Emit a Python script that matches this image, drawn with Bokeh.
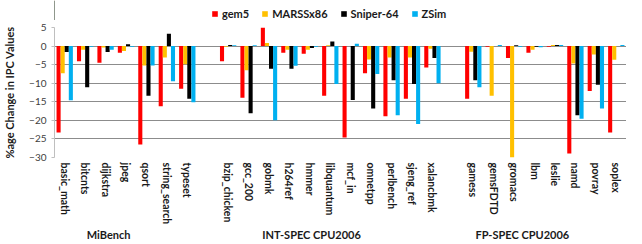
from bokeh.plotting import figure
from bokeh.layouts import column
from bokeh.models import FactorRange, Range1d, Legend, LegendItem, FixedTicker, ColumnDataSource
from bokeh.core.properties import value
from bokeh.transform import dodge
from bokeh.embed import file_html
from bokeh.resources import INLINE

# ---- data ----
mibench = ["basic_math", "bitcnts", "dijkstra", "jpeg", "qsort", "string_search", "typeset"]
intspec = ["bzip_chicken", "gcc_200", "gobmk", "h264ref", "hmmer", "libquantum", "mcf_in",
           "omnetpp", "perlbench", "sjeng_ref", "xalancbmk"]
fpspec = ["gamess", "gemsFDTD", "gromacs", "lbm", "leslie", "namd", "povray", "soplex"]
group_names = ["MiBench", "INT-SPEC  CPU2006", "FP-SPEC CPU2006"]

gem5 = [-23.3, -4.1, -4.5, -1.8, -26.5, -16.2, -11.5,
        -4.1, -13.9, 5.0, -1.8, -2.1, -13.4, -24.6, -7.3, -18.9, -14.2, -5.8,
        -14.2, -0.2, -3.2, -1.8, -0.2, -28.9, -12.1, -23.3]
marss = [-7.3, -1.0, -0.4, -1.3, -5.2, -3.1, -4.9,
         -0.2, -6.5, 0.8, -1.0, -1.0, 0.2, 0.0, -3.6, -3.1, -3.1, -0.7,
         -1.5, -13.4, -30.0, -1.0, 0.3, -4.7, -2.3, -3.7]
sniper = [-1.6, -11.1, -1.6, 0.5, -13.4, 3.3, -14.2,
          0.3, -18.1, -6.1, -6.1, -0.5, 1.2, -14.5, -16.8, -9.2, -10.2, -3.2,
          -9.2, 0.0, 0.2, -0.2, 0.3, -18.6, -10.4, 0.0]
zsim = [-14.6, -0.2, -1.0, -0.2, -5.2, -9.5, -15.1,
        0.2, 0.2, -20.0, -5.3, -0.2, -10.2, 0.6, -7.5, -18.6, -21.0, -10.0,
        -11.1, 0.3, -0.2, -0.3, 0.3, -19.6, -16.8, 0.3]
series_names = ["gem5", "MARSSx86", "Sniper-64", "ZSim"]
series_colors = ["#FF0000", "#FFC000", "#000000", "#00B0F0"]
y_ticks = [-30, -25, -20, -15, -10, -5, 0, 5]

# ---- build ----
groups = [mibench, intspec, fpspec]
factors = []
group_centers = []
for gi, g in enumerate(groups):
    start = len(factors)
    factors.extend(g)
    group_centers.append((start + len(factors) - 1) / 2 + 0.5)
    if gi < len(groups) - 1:
        factors.append(" " * (gi + 1))  # empty gap slot

cats = mibench + intspec + fpspec
src = ColumnDataSource(dict(cat=cats, gem5=gem5, marss=marss, sniper=sniper, zsim=zsim))
cols = ["gem5", "marss", "sniper", "zsim"]

FONT = "Lato"
W = 626
LEFT = 45

xr = FactorRange(factors=factors, range_padding=0, factor_padding=0)

# --- legend strip ---
top = figure(width=W, height=20, x_range=Range1d(0, 1), y_range=Range1d(0, 1),
             output_backend="svg", toolbar_location=None,
             min_border_left=LEFT, min_border_right=0, min_border_top=0, min_border_bottom=0)
top.axis.visible = False
top.grid.visible = False
top.outline_line_color = None
items = []
for name, color in zip(series_names, series_colors):
    r = top.vbar(x=[-10], top=[1], width=0.1, fill_color=color, line_color=None)
    items.append(LegendItem(label=name, renderers=[r]))
legend = Legend(items=items, orientation="horizontal", location=(157, 0),
                border_line_alpha=0, background_fill_alpha=0, padding=0, margin=0,
                spacing=12, glyph_width=7, glyph_height=7, label_standoff=4,
                label_height=12,
                label_text_font=FONT, label_text_font_size="11px",
                label_text_font_style="bold", label_text_color="#1a1a1a")
top.add_layout(legend, "center")

# --- main chart ---
p = figure(x_range=xr, y_range=Range1d(-30, 5), width=W, height=207,
           output_backend="svg", toolbar_location=None,
           min_border_left=LEFT, min_border_right=0, min_border_top=7, min_border_bottom=40)

offsets = [-0.3, -0.1, 0.1, 0.3]
for col, color, off in zip(cols, series_colors, offsets):
    p.vbar(x=dodge("cat", off, range=p.x_range), top=col, bottom=0, width=0.2,
           source=src, fill_color=color, line_color=None)

p.outline_line_color = None
p.xgrid.grid_line_color = None
p.ygrid.grid_line_color = "#8C8C8C"
p.ygrid.grid_line_width = 1

p.yaxis.ticker = FixedTicker(ticks=y_ticks)
p.yaxis.axis_label = "%age Change in IPC Values"
p.yaxis.axis_label_text_font = FONT
p.yaxis.axis_label_text_font_size = "11px"
p.yaxis.axis_label_text_font_style = "bold"
p.yaxis.axis_label_text_color = "#1a1a1a"
p.yaxis.axis_label_standoff = 10
p.yaxis.major_label_text_font = FONT
p.yaxis.major_label_text_font_size = "10px"
p.yaxis.major_label_text_color = "#404040"
p.yaxis.major_label_standoff = 5
p.yaxis.axis_line_color = "#BFBFBF"
p.yaxis.major_tick_line_color = "#BFBFBF"
p.yaxis.major_tick_out = 3
p.yaxis.major_tick_in = 0
p.yaxis.minor_tick_line_color = None

p.xaxis.axis_line_color = None
p.xaxis.major_tick_line_color = None
p.xaxis.major_tick_out = 0
p.xaxis.major_label_orientation = "vertical"
p.xaxis.major_label_text_font = FONT
p.xaxis.major_label_text_font_size = "10.5px"
p.xaxis.major_label_text_font_style = "bold"
p.xaxis.major_label_text_color = "#1a1a1a"
p.xaxis.major_label_standoff = 5

# --- group label strip ---
bot = figure(width=W, height=13, x_range=xr, y_range=Range1d(0, 1),
             output_backend="svg", toolbar_location=None,
             min_border_left=LEFT, min_border_right=0, min_border_top=0, min_border_bottom=0)
bot.axis.visible = False
bot.grid.visible = False
bot.outline_line_color = None
group_shift = [-0.85, -0.85, -1.1]
gsrc = ColumnDataSource(dict(x=[c + s for c, s in zip(group_centers, group_shift)],
                             y=[0.5] * len(group_names), t=group_names))
bot.text(x="x", y="y", text="t", source=gsrc, text_align="center", text_baseline="middle",
         text_font=value(FONT), text_font_size="11px", text_font_style="bold",
         text_color="#1a1a1a")

layout = column(top, p, bot, spacing=0)
open("out.html", "w").write(file_html(layout, INLINE))
